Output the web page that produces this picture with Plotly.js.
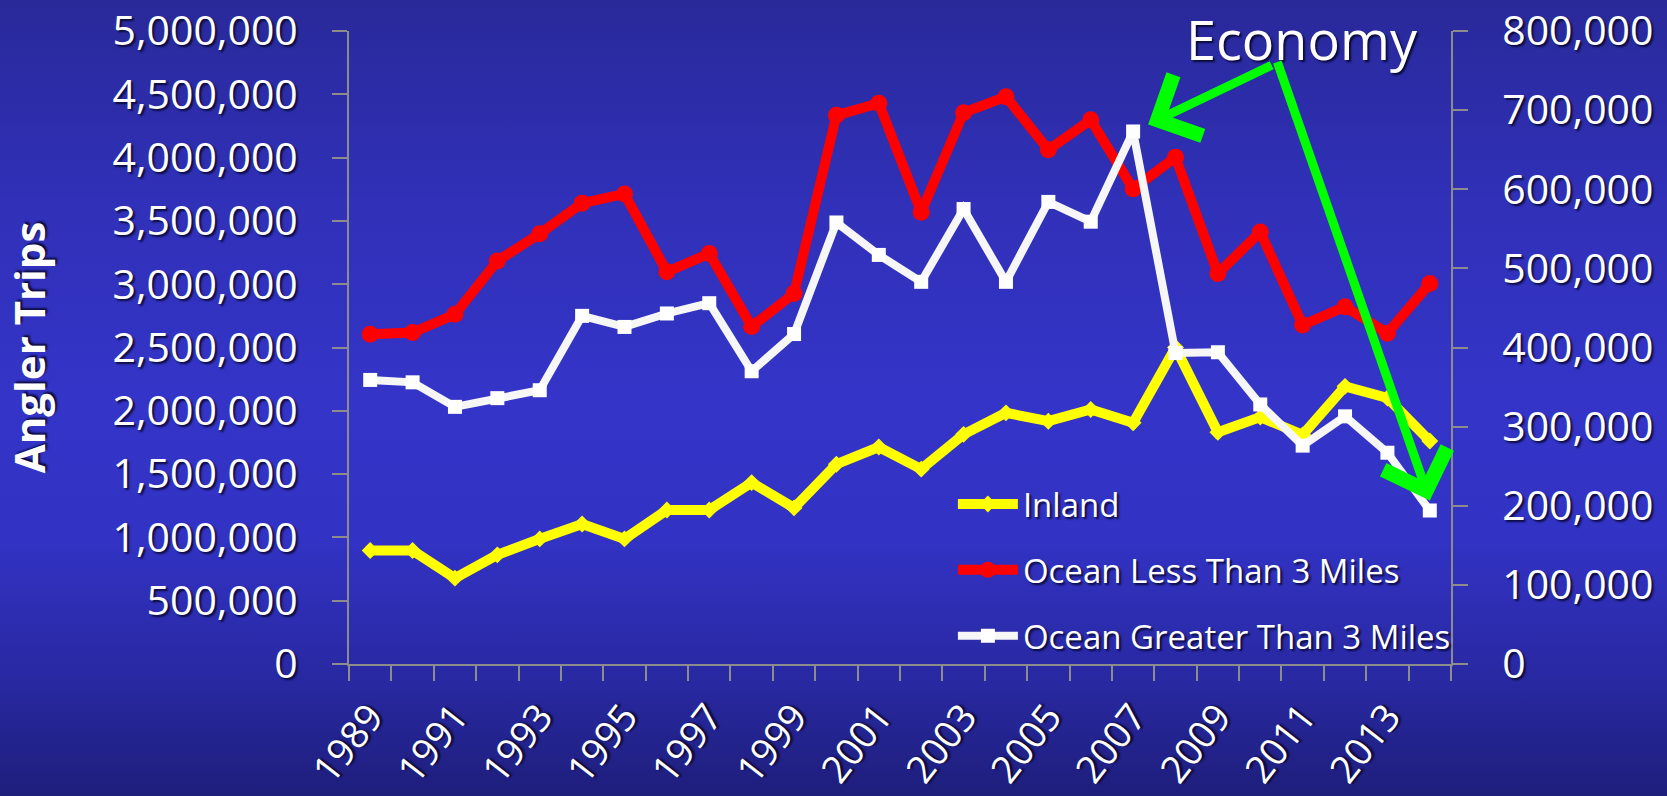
<!DOCTYPE html>
<html>
<head>
<meta charset="utf-8">
<script src="https://cdn.plot.ly/plotly-3.0.1.min.js"></script>
<style>
  html, body { margin: 0; padding: 0; }
  #chart {
    width: 1667px; height: 796px;
    background: linear-gradient(to bottom, #29299a 0%, #3030b8 25%, #3434c8 50%, #3232c4 68%, #2828a0 86%, #1e1e7c 100%);
  }
</style>
</head>
<body>
<div id="chart"></div>
<script>
// ---- data ----
const years = [1989, 1990, 1991, 1992, 1993, 1994, 1995, 1996, 1997, 1998, 1999, 2000, 2001,
               2002, 2003, 2004, 2005, 2006, 2007, 2008, 2009, 2010, 2011, 2012, 2013, 2014];
const tickYears = [1989, 1991, 1993, 1995, 1997, 1999, 2001, 2003, 2005, 2007, 2009, 2011, 2013];
const tickYearLabels = ['1989', '1991', '1993', '1995', '1997', '1999', '2001', '2003', '2005', '2007', '2009', '2011', '2013'];
const inland = [896000, 896000, 678000, 862000, 988000, 1106000, 988000, 1216000, 1216000, 1433000,
                1233000, 1578000, 1714000, 1539000, 1814000, 1984000, 1918000, 2010000, 1905000, 2500000,
                1830000, 1950000, 1810000, 2193000, 2101000, 1761000];
const oceanLess = [2605000, 2618000, 2762000, 3184000, 3399000, 3640000, 3713000, 3098000, 3242000, 2665000,
                   2927000, 4334000, 4429000, 3569000, 4355000, 4481000, 4062000, 4298000, 3753000, 4002000,
                   3085000, 3412000, 2678000, 2822000, 2613000, 3006000];
const oceanGreater = [359000, 356000, 325000, 336000, 346000, 440000, 426000, 443000, 456000, 370000,
                      417000, 558000, 517000, 483000, 575000, 483000, 584000, 559000, 673000, 393000,
                      394000, 328000, 276000, 313000, 267000, 194000];
const seriesNames = ['Inland', 'Ocean Less Than 3 Miles', 'Ocean Greater Than 3 Miles'];
const leftTitle = 'Angler Trips';
const noteText = 'Economy';

// ---- styles ----
const FONT = '"Open Sans", "DejaVu Sans", sans-serif';
const SHADOW = '2px 2px 2px rgba(5,5,40,0.85)';
const AXIS_GRAY = '#8c8c8c';

const traces = [
  { x: years, y: inland, name: seriesNames[0], type: 'scatter', mode: 'lines+markers',
    legendgroup: 'a', yaxis: 'y',
    line: { color: '#ffff00', width: 10 },
    marker: { symbol: 'diamond', size: 13, color: '#ffff00' } },
  { x: years, y: oceanLess, name: seriesNames[1], type: 'scatter', mode: 'lines+markers',
    legendgroup: 'b', yaxis: 'y',
    line: { color: '#ff0000', width: 10 },
    marker: { symbol: 'circle', size: 17, color: '#ff0000' } },
  { x: years, y: oceanGreater, name: seriesNames[2], type: 'scatter', mode: 'lines+markers',
    legendgroup: 'c', yaxis: 'y2',
    line: { color: '#f6f6f6', width: 8 },
    marker: { symbol: 'square', size: 14, color: '#ffffff' } }
];

const tickFont = { family: FONT, size: 41, color: '#ffffff', shadow: SHADOW };

const layout = {
  width: 1667, height: 796,
  margin: { l: 349, r: 216, t: 31, b: 132 },
  paper_bgcolor: 'rgba(0,0,0,0)',
  plot_bgcolor: 'rgba(0,0,0,0)',
  font: { family: FONT, color: '#ffffff' },
  showlegend: true,
  hovermode: false,
  xaxis: {
    type: 'linear',
    range: [years[0] - 0.5, years[years.length - 1] + 0.5],
    tickmode: 'array', tickvals: tickYears, ticktext: tickYearLabels,
    ticks: '', tickangle: -52,
    tickfont: { family: FONT, size: 38, color: '#ffffff', shadow: SHADOW },
    ticklabelstandoff: 13,
    showgrid: false, zeroline: false,
    showline: true, linecolor: AXIS_GRAY, linewidth: 2,
    minor: { tick0: 0.5, dtick: 1, ticks: 'outside', ticklen: 15, tickwidth: 2, tickcolor: AXIS_GRAY, showgrid: false }
  },
  yaxis: {
    range: [0, 5000000], dtick: 500000, tickformat: ',d',
    showgrid: false, zeroline: false,
    showline: true, linecolor: AXIS_GRAY, linewidth: 2,
    ticks: 'outside', ticklen: 15, tickwidth: 2, tickcolor: AXIS_GRAY,
    tickfont: tickFont, ticklabelstandoff: 26, ticklabeloverflow: 'allow',
    title: { text: leftTitle, font: { family: FONT, size: 42, color: '#ffffff', weight: 'bold', shadow: SHADOW }, standoff: 58 }
  },
  yaxis2: {
    overlaying: 'y', side: 'right',
    range: [0, 800000], dtick: 100000, tickformat: ',d',
    showgrid: false, zeroline: false,
    showline: true, linecolor: AXIS_GRAY, linewidth: 2,
    ticks: 'outside', ticklen: 15, tickwidth: 2, tickcolor: AXIS_GRAY,
    tickfont: tickFont, ticklabelstandoff: 26, ticklabeloverflow: 'allow'
  },
  legend: {
    x: 0.548, y: 0.297, xanchor: 'left', yanchor: 'top',
    bgcolor: 'rgba(0,0,0,0)',
    font: { family: FONT, size: 33, color: '#ffffff', shadow: SHADOW },
    itemwidth: 60, tracegroupgap: 20
  },
  annotations: [
    { xref: 'paper', yref: 'paper', x: 0.865, y: 1.0, xanchor: 'center', yanchor: 'top',
      yshift: 31, text: noteText, showarrow: false,
      font: { family: FONT, size: 54, color: '#ffffff', shadow: SHADOW } },
    { xref: 'x', yref: 'y2', x: years[18], y: oceanGreater[18], xshift: 15, yshift: 7,
      text: '', showarrow: true, arrowhead: 4, arrowsize: 1.45, arrowwidth: 9, arrowcolor: '#00ff00',
      axref: 'pixel', ayref: 'pixel', ax: 125, ay: -60 },
    { xref: 'x', yref: 'y2', x: years[25], y: oceanGreater[25], xshift: 0, yshift: 10,
      text: '', showarrow: true, arrowhead: 4, arrowsize: 1.45, arrowwidth: 9, arrowcolor: '#00ff00',
      axref: 'pixel', ayref: 'pixel', ax: -153, ay: -440 }
  ]
};

Plotly.newPlot('chart', traces, layout, { displayModeBar: false, staticPlot: true });
</script>
</body>
</html>
